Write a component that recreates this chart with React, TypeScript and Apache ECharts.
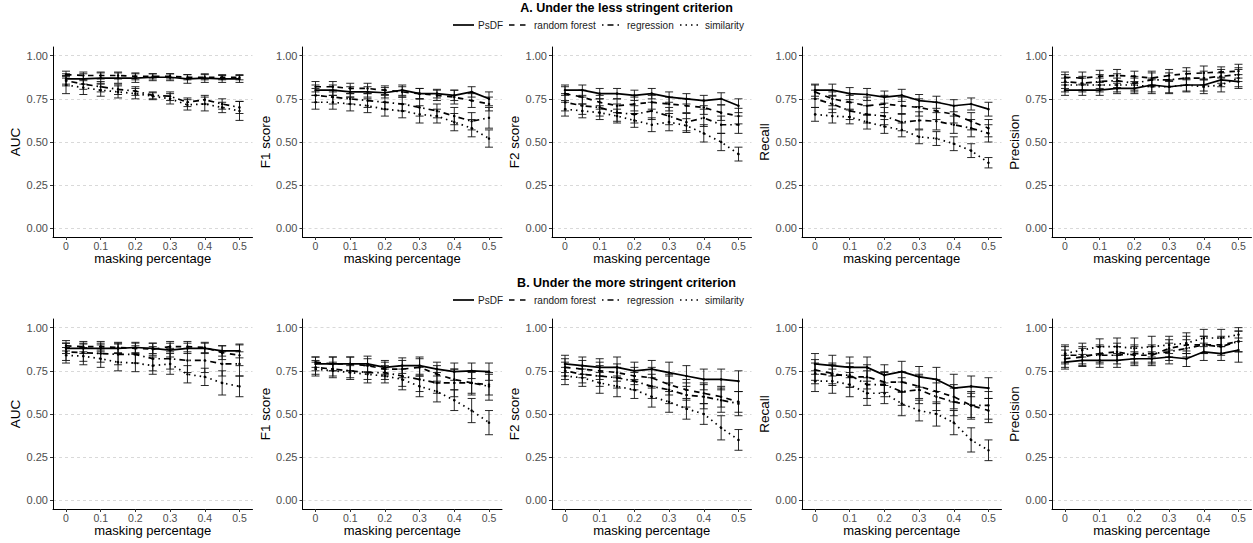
import React, { useEffect, useRef } from 'react';
import * as echarts from 'echarts';

const maskingPct = [0, 0.05, 0.1, 0.15, 0.2, 0.25, 0.3, 0.35, 0.4, 0.45, 0.5];
const xTicks = [0, 0.1, 0.2, 0.3, 0.4, 0.5];
const yTicks = [0, 0.25, 0.5, 0.75, 1];
const methods = ['PsDF', 'random forest', 'regression', 'similarity'];
const metricNames = ['AUC', 'F1 score', 'F2 score', 'Recall', 'Precision'];
const rowTitles = ['A. Under the less stringent criterion', 'B. Under the more stringent criterion'];

// ---- A. less stringent ----
const aucA_psdf = [0.865, 0.865, 0.87, 0.87, 0.87, 0.875, 0.875, 0.865, 0.87, 0.865, 0.865];
const aucA_psdf_sd = [0.03, 0.03, 0.03, 0.03, 0.025, 0.02, 0.02, 0.025, 0.025, 0.02, 0.02];
const aucA_rf = [0.89, 0.885, 0.885, 0.885, 0.88, 0.88, 0.88, 0.875, 0.875, 0.875, 0.875];
const aucA_rf_sd = [0.02, 0.02, 0.02, 0.02, 0.02, 0.015, 0.015, 0.015, 0.015, 0.015, 0.015];
const aucA_reg = [0.855, 0.835, 0.82, 0.805, 0.795, 0.77, 0.765, 0.73, 0.745, 0.72, 0.7];
const aucA_reg_sd = [0.03, 0.03, 0.03, 0.03, 0.025, 0.02, 0.025, 0.025, 0.025, 0.03, 0.035];
const aucA_sim = [0.83, 0.815, 0.8, 0.79, 0.78, 0.765, 0.75, 0.715, 0.72, 0.7, 0.68];
const aucA_sim_sd = [0.05, 0.04, 0.035, 0.035, 0.03, 0.02, 0.03, 0.03, 0.04, 0.03, 0.055];

const f1A_psdf = [0.8, 0.8, 0.79, 0.79, 0.785, 0.8, 0.78, 0.78, 0.77, 0.79, 0.75];
const f1A_psdf_sd = [0.03, 0.03, 0.03, 0.03, 0.03, 0.03, 0.03, 0.025, 0.03, 0.03, 0.04];
const f1A_rf = [0.82, 0.82, 0.81, 0.81, 0.8, 0.79, 0.78, 0.77, 0.76, 0.74, 0.72];
const f1A_rf_sd = [0.03, 0.03, 0.03, 0.03, 0.025, 0.03, 0.03, 0.03, 0.04, 0.04, 0.04];
const f1A_reg = [0.77, 0.76, 0.75, 0.74, 0.73, 0.72, 0.7, 0.68, 0.65, 0.62, 0.64];
const f1A_reg_sd = [0.04, 0.04, 0.03, 0.04, 0.04, 0.04, 0.05, 0.04, 0.05, 0.05, 0.06];
const f1A_sim = [0.73, 0.73, 0.72, 0.71, 0.69, 0.68, 0.66, 0.65, 0.615, 0.58, 0.52];
const f1A_sim_sd = [0.04, 0.04, 0.04, 0.04, 0.04, 0.04, 0.05, 0.04, 0.05, 0.05, 0.05];

const f2A_psdf = [0.8, 0.8, 0.78, 0.78, 0.77, 0.78, 0.76, 0.75, 0.74, 0.75, 0.71];
const f2A_psdf_sd = [0.03, 0.03, 0.03, 0.03, 0.03, 0.03, 0.03, 0.03, 0.03, 0.035, 0.04];
const f2A_rf = [0.78, 0.76, 0.73, 0.71, 0.72, 0.73, 0.72, 0.71, 0.7, 0.67, 0.65];
const f2A_rf_sd = [0.04, 0.04, 0.04, 0.04, 0.04, 0.04, 0.04, 0.04, 0.04, 0.045, 0.045];
const f2A_reg = [0.73, 0.71, 0.7, 0.67, 0.66, 0.68, 0.65, 0.615, 0.64, 0.6, 0.6];
const f2A_reg_sd = [0.05, 0.05, 0.05, 0.05, 0.05, 0.05, 0.05, 0.05, 0.05, 0.05, 0.05];
const f2A_sim = [0.69, 0.68, 0.67, 0.65, 0.625, 0.6, 0.615, 0.595, 0.55, 0.5, 0.43];
const f2A_sim_sd = [0.04, 0.04, 0.04, 0.04, 0.04, 0.04, 0.05, 0.04, 0.05, 0.05, 0.04];

const recA_psdf = [0.8, 0.8, 0.78, 0.775, 0.76, 0.77, 0.74, 0.73, 0.71, 0.72, 0.69];
const recA_psdf_sd = [0.035, 0.035, 0.035, 0.035, 0.035, 0.035, 0.035, 0.035, 0.035, 0.035, 0.04];
const recA_rf = [0.79, 0.75, 0.73, 0.71, 0.72, 0.71, 0.7, 0.68, 0.66, 0.62, 0.58];
const recA_rf_sd = [0.04, 0.04, 0.04, 0.05, 0.05, 0.05, 0.05, 0.05, 0.05, 0.05, 0.05];
const recA_reg = [0.75, 0.72, 0.68, 0.66, 0.65, 0.615, 0.625, 0.62, 0.6, 0.58, 0.55];
const recA_reg_sd = [0.05, 0.05, 0.05, 0.05, 0.05, 0.05, 0.05, 0.05, 0.05, 0.05, 0.05];
const recA_sim = [0.66, 0.65, 0.645, 0.615, 0.59, 0.57, 0.53, 0.52, 0.49, 0.45, 0.38];
const recA_sim_sd = [0.04, 0.04, 0.04, 0.04, 0.04, 0.04, 0.04, 0.04, 0.04, 0.04, 0.03];

const preA_psdf = [0.8, 0.8, 0.8, 0.81, 0.81, 0.83, 0.82, 0.83, 0.83, 0.86, 0.85];
const preA_psdf_sd = [0.03, 0.03, 0.03, 0.03, 0.03, 0.04, 0.035, 0.035, 0.035, 0.04, 0.04];
const preA_rf = [0.875, 0.87, 0.88, 0.885, 0.88, 0.87, 0.885, 0.895, 0.9, 0.905, 0.91];
const preA_rf_sd = [0.03, 0.035, 0.035, 0.035, 0.03, 0.04, 0.035, 0.035, 0.04, 0.03, 0.04];
const preA_reg = [0.85, 0.84, 0.85, 0.855, 0.84, 0.86, 0.86, 0.87, 0.87, 0.88, 0.89];
const preA_reg_sd = [0.04, 0.04, 0.04, 0.04, 0.04, 0.04, 0.04, 0.04, 0.04, 0.04, 0.04];
const preA_sim = [0.83, 0.83, 0.83, 0.83, 0.83, 0.82, 0.82, 0.83, 0.82, 0.83, 0.87];
const preA_sim_sd = [0.04, 0.04, 0.04, 0.04, 0.04, 0.04, 0.04, 0.04, 0.04, 0.04, 0.05];

// ---- B. more stringent ----
const aucB_psdf = [0.88, 0.88, 0.88, 0.88, 0.885, 0.88, 0.87, 0.88, 0.88, 0.865, 0.865];
const aucB_psdf_sd = [0.03, 0.03, 0.03, 0.03, 0.03, 0.03, 0.04, 0.03, 0.03, 0.03, 0.04];
const aucB_rf = [0.895, 0.89, 0.89, 0.885, 0.88, 0.875, 0.89, 0.89, 0.885, 0.855, 0.84];
const aucB_rf_sd = [0.03, 0.03, 0.03, 0.03, 0.03, 0.035, 0.03, 0.03, 0.03, 0.04, 0.06];
const aucB_reg = [0.86, 0.855, 0.85, 0.845, 0.845, 0.82, 0.82, 0.81, 0.81, 0.79, 0.79];
const aucB_reg_sd = [0.05, 0.05, 0.05, 0.06, 0.05, 0.07, 0.06, 0.07, 0.07, 0.07, 0.07];
const aucB_sim = [0.84, 0.835, 0.82, 0.8, 0.795, 0.78, 0.79, 0.73, 0.715, 0.68, 0.66];
const aucB_sim_sd = [0.045, 0.05, 0.05, 0.05, 0.05, 0.05, 0.06, 0.05, 0.05, 0.07, 0.06];

const f1B_psdf = [0.79, 0.79, 0.79, 0.79, 0.77, 0.78, 0.78, 0.76, 0.745, 0.75, 0.745];
const f1B_psdf_sd = [0.04, 0.04, 0.04, 0.045, 0.04, 0.045, 0.05, 0.04, 0.05, 0.045, 0.05];
const f1B_rf = [0.8, 0.79, 0.79, 0.78, 0.76, 0.76, 0.77, 0.73, 0.7, 0.68, 0.67];
const f1B_rf_sd = [0.03, 0.04, 0.04, 0.04, 0.04, 0.05, 0.05, 0.05, 0.06, 0.06, 0.06];
const f1B_reg = [0.77, 0.76, 0.75, 0.74, 0.74, 0.72, 0.7, 0.68, 0.68, 0.68, 0.66];
const f1B_reg_sd = [0.04, 0.04, 0.04, 0.04, 0.04, 0.06, 0.07, 0.06, 0.08, 0.07, 0.08];
const f1B_sim = [0.76, 0.75, 0.74, 0.73, 0.72, 0.7, 0.66, 0.63, 0.58, 0.52, 0.45];
const f1B_sim_sd = [0.04, 0.04, 0.04, 0.05, 0.04, 0.06, 0.06, 0.06, 0.06, 0.07, 0.07];

const f2B_psdf = [0.79, 0.78, 0.77, 0.77, 0.75, 0.76, 0.74, 0.72, 0.7, 0.7, 0.69];
const f2B_psdf_sd = [0.05, 0.05, 0.05, 0.06, 0.05, 0.05, 0.06, 0.06, 0.06, 0.06, 0.06];
const f2B_rf = [0.77, 0.76, 0.75, 0.74, 0.72, 0.71, 0.67, 0.64, 0.62, 0.6, 0.57];
const f2B_rf_sd = [0.05, 0.05, 0.05, 0.05, 0.05, 0.06, 0.06, 0.06, 0.06, 0.06, 0.06];
const f2B_reg = [0.75, 0.73, 0.72, 0.71, 0.69, 0.66, 0.64, 0.61, 0.6, 0.58, 0.56];
const f2B_reg_sd = [0.05, 0.05, 0.06, 0.06, 0.05, 0.07, 0.08, 0.07, 0.07, 0.07, 0.07];
const f2B_sim = [0.72, 0.71, 0.68, 0.66, 0.64, 0.6, 0.57, 0.53, 0.5, 0.42, 0.35];
const f2B_sim_sd = [0.05, 0.05, 0.06, 0.06, 0.05, 0.06, 0.06, 0.06, 0.06, 0.07, 0.06];

const recB_psdf = [0.79, 0.78, 0.77, 0.77, 0.725, 0.745, 0.715, 0.7, 0.65, 0.66, 0.65];
const recB_psdf_sd = [0.06, 0.06, 0.06, 0.06, 0.06, 0.06, 0.06, 0.07, 0.08, 0.06, 0.06];
const recB_rf = [0.755, 0.735, 0.715, 0.715, 0.685, 0.685, 0.66, 0.63, 0.6, 0.55, 0.52];
const recB_rf_sd = [0.06, 0.06, 0.06, 0.07, 0.06, 0.06, 0.07, 0.07, 0.07, 0.07, 0.07];
const recB_reg = [0.735, 0.725, 0.725, 0.67, 0.67, 0.63, 0.64, 0.6, 0.57, 0.55, 0.55];
const recB_reg_sd = [0.06, 0.06, 0.07, 0.08, 0.07, 0.08, 0.08, 0.08, 0.08, 0.08, 0.08];
const recB_sim = [0.69, 0.69, 0.67, 0.62, 0.62, 0.56, 0.52, 0.5, 0.45, 0.35, 0.29];
const recB_sim_sd = [0.06, 0.07, 0.07, 0.07, 0.06, 0.07, 0.06, 0.07, 0.07, 0.07, 0.06];

const preB_psdf = [0.8, 0.81, 0.81, 0.81, 0.82, 0.82, 0.83, 0.82, 0.86, 0.85, 0.87];
const preB_psdf_sd = [0.04, 0.035, 0.04, 0.04, 0.04, 0.04, 0.04, 0.045, 0.05, 0.04, 0.07];
const preB_rf = [0.82, 0.83, 0.85, 0.86, 0.84, 0.84, 0.88, 0.9, 0.9, 0.9, 0.92];
const preB_rf_sd = [0.05, 0.05, 0.05, 0.05, 0.05, 0.05, 0.05, 0.05, 0.05, 0.05, 0.06];
const preB_reg = [0.84, 0.84, 0.84, 0.84, 0.85, 0.85, 0.86, 0.88, 0.9, 0.89, 0.92];
const preB_reg_sd = [0.05, 0.05, 0.05, 0.05, 0.05, 0.05, 0.05, 0.05, 0.05, 0.05, 0.06];
const preB_sim = [0.85, 0.87, 0.89, 0.89, 0.88, 0.89, 0.9, 0.91, 0.94, 0.94, 0.96];
const preB_sim_sd = [0.05, 0.04, 0.045, 0.05, 0.06, 0.06, 0.05, 0.06, 0.05, 0.05, 0.04];

type Pair = [number[], number[]];
const rowA: Pair[][] = [
  [[aucA_psdf, aucA_psdf_sd], [aucA_rf, aucA_rf_sd], [aucA_reg, aucA_reg_sd], [aucA_sim, aucA_sim_sd]],
  [[f1A_psdf, f1A_psdf_sd], [f1A_rf, f1A_rf_sd], [f1A_reg, f1A_reg_sd], [f1A_sim, f1A_sim_sd]],
  [[f2A_psdf, f2A_psdf_sd], [f2A_rf, f2A_rf_sd], [f2A_reg, f2A_reg_sd], [f2A_sim, f2A_sim_sd]],
  [[recA_psdf, recA_psdf_sd], [recA_rf, recA_rf_sd], [recA_reg, recA_reg_sd], [recA_sim, recA_sim_sd]],
  [[preA_psdf, preA_psdf_sd], [preA_rf, preA_rf_sd], [preA_reg, preA_reg_sd], [preA_sim, preA_sim_sd]],
];
const rowB: Pair[][] = [
  [[aucB_psdf, aucB_psdf_sd], [aucB_rf, aucB_rf_sd], [aucB_reg, aucB_reg_sd], [aucB_sim, aucB_sim_sd]],
  [[f1B_psdf, f1B_psdf_sd], [f1B_rf, f1B_rf_sd], [f1B_reg, f1B_reg_sd], [f1B_sim, f1B_sim_sd]],
  [[f2B_psdf, f2B_psdf_sd], [f2B_rf, f2B_rf_sd], [f2B_reg, f2B_reg_sd], [f2B_sim, f2B_sim_sd]],
  [[recB_psdf, recB_psdf_sd], [recB_rf, recB_rf_sd], [recB_reg, recB_reg_sd], [recB_sim, recB_sim_sd]],
  [[preB_psdf, preB_psdf_sd], [preB_rf, preB_rf_sd], [preB_reg, preB_reg_sd], [preB_sim, preB_sim_sd]],
];

const FONT = '"Liberation Sans", Arial, Helvetica, sans-serif';
const DASHES: any[] = ['solid', [5.5, 5.5], [1.5, 4, 6, 4], [1.5, 4]];

const PANEL_LEFT = [53, 302.5, 552, 802, 1052];
const PANEL_W = 199.5;
const ROW_TOP = [47, 319];
const PANEL_H = 190;
const TITLE_Y = [8, 283];
const LEGEND_Y = [25, 300];
const LEGEND_KEY_X = [453, 509, 602, 680];
const LEGEND_TEXT_X = [478, 534, 627, 705];

function buildOption() {
  const grid: any[] = [];
  const xAxis: any[] = [];
  const yAxis: any[] = [];
  const series: any[] = [];
  const graphic: any[] = [];

  [rowA, rowB].forEach((row, r) => {
    row.forEach((panel, c) => {
      const k = r * 5 + c;
      grid.push({ left: PANEL_LEFT[c], top: ROW_TOP[r], width: PANEL_W, height: PANEL_H, containLabel: false });
      xAxis.push({
        type: 'value', gridIndex: k, min: -0.0375, max: 0.5375,
        name: 'masking percentage', nameLocation: 'middle', nameGap: 15, nameMoveOverlap: false,
        nameTextStyle: { fontFamily: FONT, fontSize: 13, color: '#000', verticalAlign: 'top' },
        axisLine: { onZero: false, lineStyle: { color: '#000', width: 1 } },
        axisTick: { customValues: xTicks, length: 3, lineStyle: { color: '#333' } },
        axisLabel: {
          customValues: xTicks, margin: 3, fontFamily: FONT, fontSize: 10.5, color: '#4d4d4d',
          formatter: (v: number) => (v === 0 ? '0' : String(Math.round(v * 10) / 10)),
        },
        splitLine: { show: false },
      });
      yAxis.push({
        type: 'value', gridIndex: k, min: -0.05, max: 1.05,
        name: metricNames[c], nameLocation: 'middle', nameGap: 30,
        nameTextStyle: { fontFamily: FONT, fontSize: 13.5, color: '#000' },
        axisLine: { onZero: false, lineStyle: { color: '#000', width: 1 } },
        axisTick: { customValues: yTicks, length: 3, lineStyle: { color: '#333' } },
        axisLabel: {
          customValues: yTicks, margin: 5, fontFamily: FONT, fontSize: 11, color: '#4d4d4d',
          formatter: (v: number) => v.toFixed(2),
        },
        splitLine: { show: true, lineStyle: { color: '#cfcfcf', width: 0.8, type: [3, 3] } },
      });
      const errData: number[][] = [];
      panel.forEach(([mean, sd], m) => {
        series.push({
          type: 'line', name: methods[m], xAxisIndex: k, yAxisIndex: k,
          data: maskingPct.map((x, j) => [x, mean[j]]),
          symbol: 'circle', symbolSize: 2.5, showSymbol: true,
          itemStyle: { color: '#000' },
          lineStyle: { color: '#000', width: 1.7, type: DASHES[m] },
          silent: true, z: 3,
        });
        maskingPct.forEach((x, j) => errData.push([x, mean[j] - sd[j], mean[j] + sd[j]]));
      });
      series.push({
        type: 'custom', xAxisIndex: k, yAxisIndex: k, silent: true, z: 2,
        encode: { x: 0, y: [1, 2] },
        data: errData,
        renderItem: (params: any, api: any) => {
          const x = api.value(0);
          const lo = api.coord([x, api.value(1)]);
          const hi = api.coord([x, api.value(2)]);
          const w = 4;
          const st = { stroke: '#111', lineWidth: 0.9 };
          return {
            type: 'group',
            children: [
              { type: 'line', shape: { x1: hi[0], y1: hi[1], x2: lo[0], y2: lo[1] }, style: st },
              { type: 'line', shape: { x1: hi[0] - w, y1: hi[1], x2: hi[0] + w, y2: hi[1] }, style: st },
              { type: 'line', shape: { x1: lo[0] - w, y1: lo[1], x2: lo[0] + w, y2: lo[1] }, style: st },
            ],
          };
        },
      });
    });

    graphic.push({
      type: 'text', left: 'center', top: TITLE_Y[r] - 7,
      style: { text: rowTitles[r], fontFamily: FONT, fontSize: 12.5, fontWeight: 'bold', fill: '#000' },
    });
    const y = LEGEND_Y[r];
    methods.forEach((mname, m) => {
      const kx = LEGEND_KEY_X[m];
      graphic.push({
        type: 'line', shape: { x1: kx, y1: y, x2: kx + 21, y2: y },
        style: { stroke: '#000', lineWidth: 1.7, lineDash: DASHES[m] === 'solid' ? null : DASHES[m] },
      });
      graphic.push({
        type: 'text', x: LEGEND_TEXT_X[m], y,
        style: { text: mname, fontFamily: FONT, fontSize: 10, fill: '#1a1a1a', verticalAlign: 'middle' },
      });
    });
  });

  return { animation: false, backgroundColor: '#fff', grid, xAxis, yAxis, series, graphic };
}

export default function App() {
  const ref = useRef<HTMLDivElement>(null);
  useEffect(() => {
    if (!ref.current) return;
    const chart = echarts.init(ref.current, null, { renderer: 'svg' });
    chart.setOption(buildOption() as any);
    return () => chart.dispose();
  }, []);
  return <div ref={ref} style={{ position: 'absolute', left: 0, top: 0, width: 1253, height: 543 }} />;
}
